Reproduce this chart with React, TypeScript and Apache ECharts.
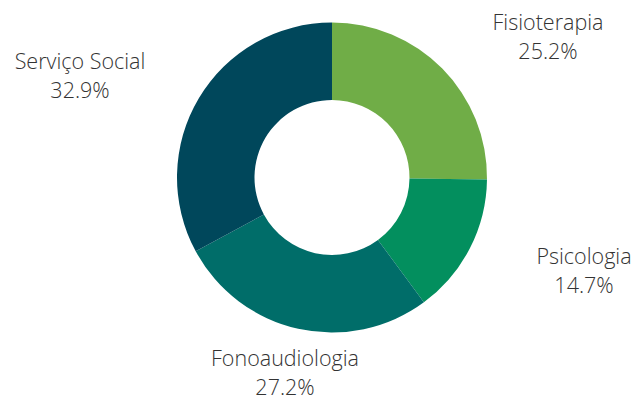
import React, { useEffect, useRef } from "react";
import * as echarts from "echarts";

const categories = ["Fisioterapia", "Psicologia", "Fonoaudiologia", "Serviço Social"];
const values = [25.2, 14.7, 27.2, 32.9];
const colors = ["#70AD47", "#038F5E", "#006D69", "#00475B"];
// label centres (px) for each slice, in category order
const labelX = [548, 584, 285, 80];
const labelY = [36, 270, 372, 75];

export default function App() {
  const ref = useRef<HTMLDivElement>(null);
  useEffect(() => {
    document.body.style.margin = "0";
    const chart = echarts.init(ref.current!, null, { renderer: "svg" });
    chart.setOption({
      animation: false,
      backgroundColor: "#ffffff",
      series: [
        {
          type: "pie",
          center: [332, 177.5],
          radius: [77.5, 155],
          startAngle: 90,
          clockwise: true,
          avoidLabelOverlap: false,
          data: categories.map((name, i) => ({
            name,
            value: values[i],
            itemStyle: { color: colors[i] },
          })),
          itemStyle: { borderWidth: 0 },
          label: {
            show: true,
            position: "outside",
            formatter: (p: any) => `${p.name}\n${p.value.toFixed(1)}%`,
            fontFamily: "Open Sans",
            fontWeight: 300,
            fontSize: 21.5,
            lineHeight: 29,
            color: "#333333",
            align: "center",
          },
          labelLine: { show: false },
          labelLayout: (params: any) => ({
            x: labelX[params.dataIndex],
            y: labelY[params.dataIndex],
            align: "center",
            verticalAlign: "middle",
          }),
          emphasis: { disabled: true },
        },
      ],
    });
    return () => chart.dispose();
  }, []);
  return <div ref={ref} style={{ width: 640, height: 401 }} />;
}
